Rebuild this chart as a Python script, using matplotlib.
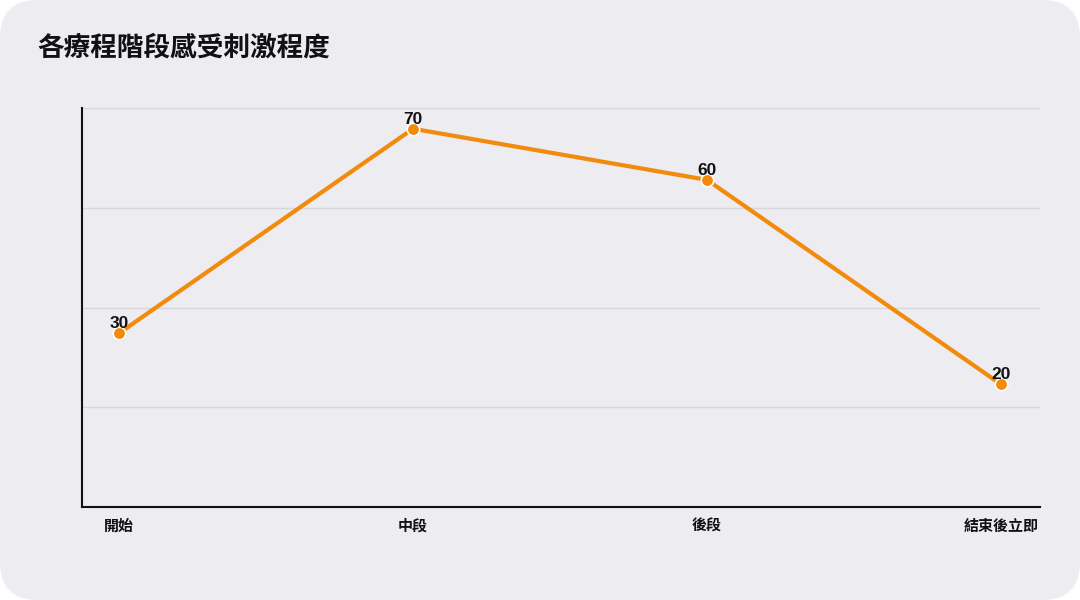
import matplotlib
matplotlib.use("Agg")
import matplotlib.pyplot as plt
from matplotlib.patches import FancyBboxPatch
import numpy as np

plt.rcParams['font.family'] = ['Noto Sans CJK TC', 'DejaVu Sans']

title = "各療程階段感受刺激程度"
stages = ["開始", "中段", "後段", "結束後立即"]
stimulation = [30, 70, 60, 20]

bg = "#EDECF1"
orange = "#F28A0C"

fig = plt.figure(figsize=(10.8, 6), dpi=100)
fig.patch.set_facecolor("white")
# rounded card behind everything
card = FancyBboxPatch((0.0, 0.0), 1.0, 1.0, boxstyle="round,pad=0,rounding_size=0.035",
                      transform=fig.transFigure, facecolor=bg, edgecolor="none",
                      mutation_aspect=1.8, zorder=-10)
fig.patches.append(card)

ax = fig.add_axes([0.0757, 0.155, 0.8873, 0.6645])
ax.set_facecolor("none")

x = np.arange(len(stages))
ax.plot(x, stimulation, color=orange, linewidth=3, marker="o", markersize=9,
        markerfacecolor=orange, markeredgecolor="white", markeredgewidth=1.2,
        solid_capstyle="round", zorder=3)

for xi, v in zip(x, stimulation):
    ax.annotate(str(v), (xi, v), xytext=(0, 1.5), textcoords="offset points",
                ha="center", va="bottom", fontsize=12.5, fontweight="bold",
                family=["Liberation Sans", "DejaVu Sans"],
                color="#111111", zorder=4)

ax.set_xlim(-0.127, len(stages) - 1 + 0.133)
ax.set_ylim(-4, 74)
ax.set_yticks(np.linspace(-4, 74, 5))
ax.set_yticklabels([])
ax.tick_params(axis="y", length=0)
ax.grid(axis="y", color="#D8D7DD", linewidth=1)
ax.set_axisbelow(True)

ax.set_xticks(x)
ax.set_xticklabels(stages, fontsize=10.8, fontweight="bold", color="#111111")
ax.tick_params(axis="x", length=0, pad=8)

for side in ["top", "right"]:
    ax.spines[side].set_visible(False)
for side in ["left", "bottom"]:
    ax.spines[side].set_color("#111111")
    ax.spines[side].set_linewidth(1.5)

fig.text(0.035, 0.92, title, fontsize=19.2, fontweight="bold", color="#111111",
         ha="left", va="center")

fig.savefig("out.png", dpi=100, facecolor=fig.get_facecolor())
